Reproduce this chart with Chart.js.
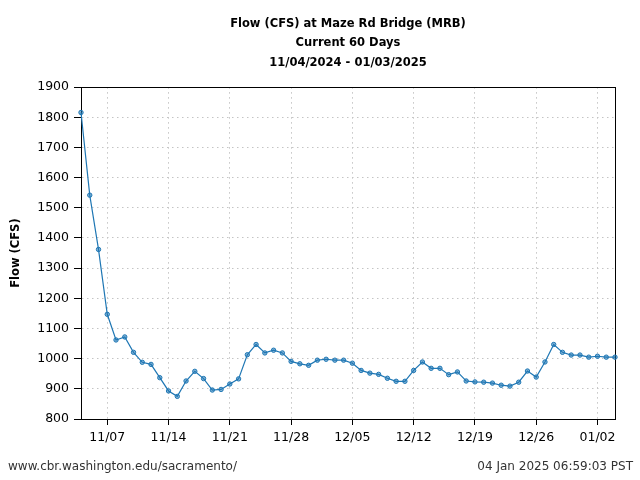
<!DOCTYPE html>
<html>
<head>
<meta charset="utf-8">
<script src="https://cdn.jsdelivr.net/npm/chart.js@4.4.1/dist/chart.umd.min.js"></script>
<style>
    html, body { margin: 0; padding: 0; background: #fff; }
</style>
</head>
<body>
<canvas id="flowChart" width="640" height="480"></canvas>
<script>
// --- Data ---
const dates = [
    '11/04', '11/05', '11/06', '11/07', '11/08', '11/09', '11/10', '11/11', '11/12', '11/13',
    '11/14', '11/15', '11/16', '11/17', '11/18', '11/19', '11/20', '11/21', '11/22', '11/23',
    '11/24', '11/25', '11/26', '11/27', '11/28', '11/29', '11/30',
    '12/01', '12/02', '12/03', '12/04', '12/05', '12/06', '12/07', '12/08', '12/09', '12/10',
    '12/11', '12/12', '12/13', '12/14', '12/15', '12/16', '12/17', '12/18', '12/19', '12/20',
    '12/21', '12/22', '12/23', '12/24', '12/25', '12/26', '12/27', '12/28', '12/29', '12/30', '12/31',
    '01/01', '01/02', '01/03', '01/04'
];
const flow = [
    1816, 1542, 1362, 1147, 1062, 1072, 1021, 988, 981, 937,
    893, 875, 926, 958, 934, 896, 898, 916, 933, 1013,
    1047, 1019, 1028, 1019, 991, 983, 978,
    995, 998, 995, 995, 985, 961, 952, 948, 935, 925,
    925, 961, 989, 968, 968, 947, 956, 926, 923, 922,
    919, 912, 909, 922, 959, 939, 989, 1047, 1021, 1012, 1012,
    1005, 1008, 1005, 1005
];
const tickLabels = ['11/07', '11/14', '11/21', '11/28', '12/05', '12/12', '12/19', '12/26', '01/02'];
const yMin = 800, yMax = 1900, yStep = 100;

const titleLines = ['Flow (CFS) at Maze Rd Bridge (MRB)', 'Current 60 Days', '11/04/2024 - 01/03/2025'];
const yTitle = 'Flow (CFS)';
const footerLeft = 'www.cbr.washington.edu/sacramento/';
const footerRight = '04 Jan 2025 06:59:03 PST';

// --- Styles ---
const FONT = '"DejaVu Sans", "Liberation Sans", sans-serif';
const lineBlue = '#1f77b4';
const gridGrey = '#c4c4c4';

const isLabelled = (i) => tickLabels.includes(dates[i]);

// box around the plot and the two footer strings
const frameAndFooter = {
    id: 'frameAndFooter',
    beforeDatasetsDraw(chart) {
        const { ctx, chartArea: a } = chart;
        ctx.save();
        ctx.strokeStyle = '#000';
        ctx.lineWidth = 1;
        ctx.strokeRect(Math.round(a.left) + 0.5, Math.round(a.top) + 0.5,
            Math.round(a.right - a.left), Math.round(a.bottom - a.top));
        ctx.restore();
    },
    afterDraw(chart) {
        const ctx = chart.ctx;
        ctx.save();
        ctx.font = '12px ' + FONT;
        ctx.fillStyle = '#333';
        ctx.textBaseline = 'alphabetic';
        ctx.textAlign = 'left';
        ctx.fillText(footerLeft, 8, 470);
        ctx.textAlign = 'right';
        ctx.fillText(footerRight, 633, 470);
        ctx.restore();
    }
};

new Chart(document.getElementById('flowChart'), {
    type: 'line',
    data: {
        labels: dates,
        datasets: [{
            data: flow,
            borderColor: lineBlue,
            borderWidth: 1.2,
            pointRadius: 2.2,
            pointBorderWidth: 1,
            pointBorderColor: lineBlue,
            pointBackgroundColor: 'rgba(31, 119, 180, 0.55)',
            tension: 0,
            fill: false
        }]
    },
    plugins: [frameAndFooter],
    options: {
        responsive: false,
        animation: false,
        layout: { padding: { left: 0, right: 25, top: 0, bottom: 0 } },
        plugins: {
            legend: { display: false },
            tooltip: { enabled: false },
            title: {
                display: true,
                text: titleLines,
                fullSize: false,
                color: '#000',
                font: { family: FONT, size: 11.5, weight: 'bold', lineHeight: 1.7 },
                padding: { top: 14, bottom: 14.5 }
            }
        },
        scales: {
            x: {
                type: 'category',
                offset: false,
                grid: {
                    color: (c) => isLabelled(c.index) ? gridGrey : 'rgba(0,0,0,0)',
                    tickColor: (c) => isLabelled(c.index) ? '#000' : 'rgba(0,0,0,0)',
                    lineWidth: 1,
                    tickLength: 6,
                    tickBorderDash: []
                },
                border: { display: true, color: '#000', width: 1, dash: [1.5, 3.5] },
                ticks: {
                    autoSkip: false,
                    maxRotation: 0,
                    minRotation: 0,
                    color: '#000',
                    padding: 5,
                    font: { family: FONT, size: 12.5 },
                    callback: (v, i) => isLabelled(i) ? dates[i] : ''
                },
                afterFit: (s) => { s.height = 61; }
            },
            y: {
                min: yMin,
                max: yMax,
                grid: {
                    color: gridGrey,
                    tickColor: '#000',
                    lineWidth: 1,
                    tickLength: 7,
                    tickBorderDash: []
                },
                border: { display: true, color: '#000', width: 1, dash: [1.5, 3.5] },
                ticks: {
                    stepSize: yStep,
                    color: '#000',
                    padding: 5,
                    font: { family: FONT, size: 12.5 },
                    callback: (v) => String(v)
                },
                title: {
                    display: true,
                    text: yTitle,
                    color: '#000',
                    font: { family: FONT, size: 11.5, weight: 'bold' },
                    padding: { top: 9, bottom: 0 }
                },
                afterFit: (s) => { s.width = 81; }
            }
        }
    }
});
</script>
</body>
</html>
